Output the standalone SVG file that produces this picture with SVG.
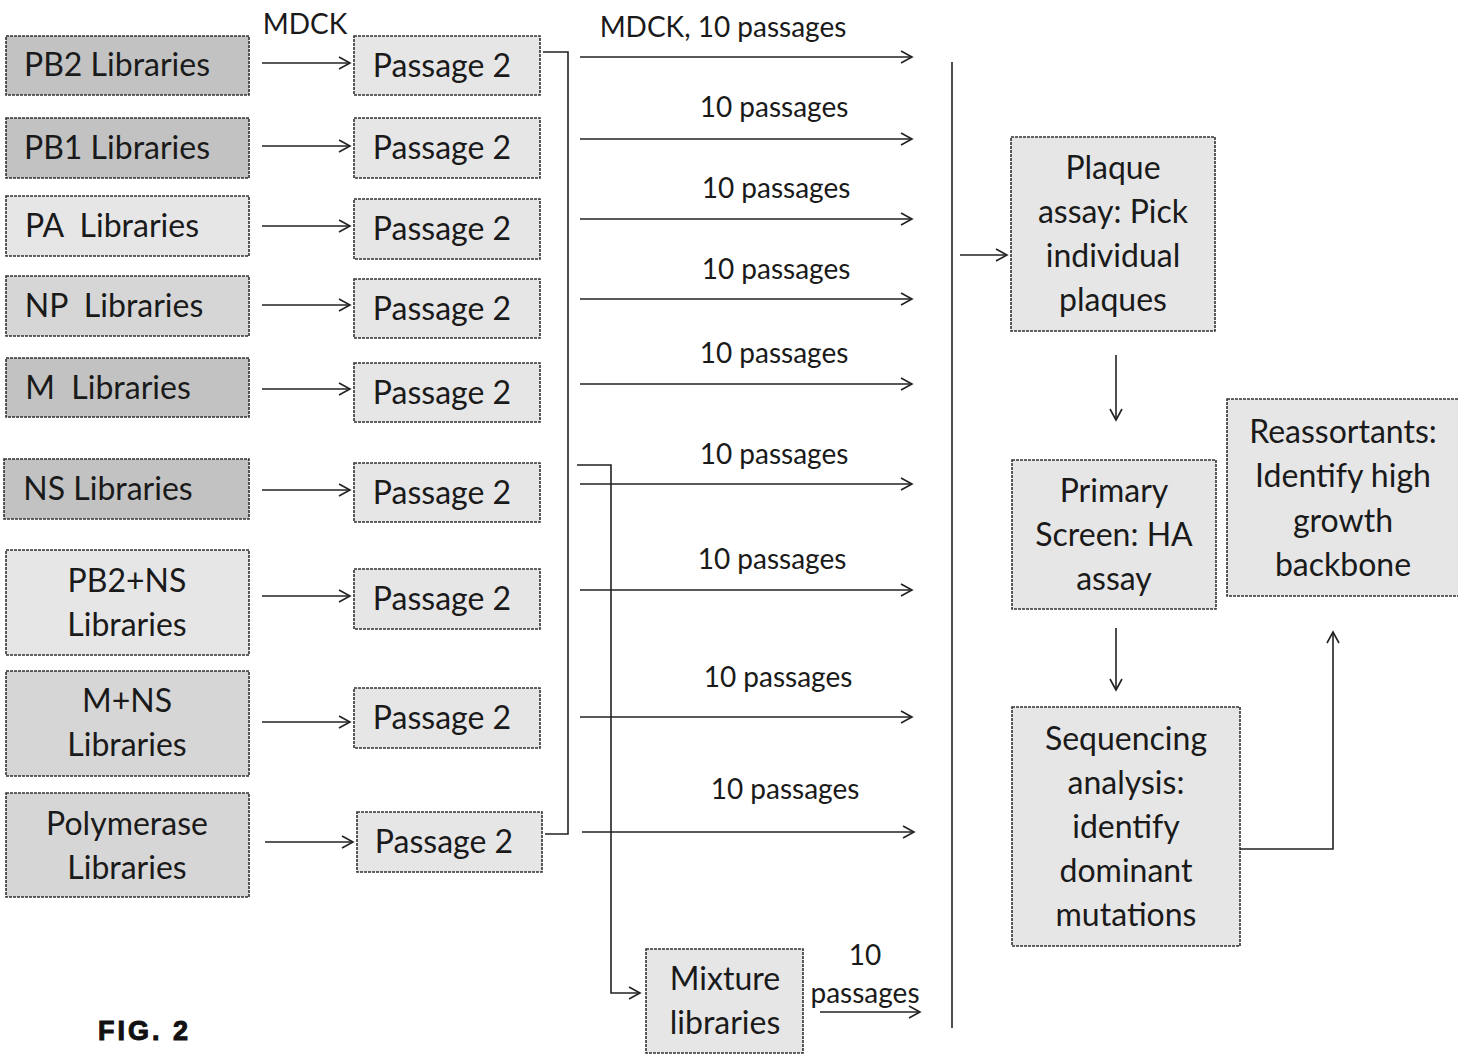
<svg xmlns="http://www.w3.org/2000/svg" width="1458" height="1057" viewBox="0 0 1458 1057">
<defs>
<marker id="ah" markerWidth="14" markerHeight="14" refX="12" refY="7" orient="auto" markerUnits="userSpaceOnUse">
<polyline points="1,1 12,7 1,13" fill="none" stroke="#222" stroke-width="1.6"/>
</marker>
<style>
.box{stroke:#333;stroke-width:1.6;stroke-dasharray:3 1}
.light{fill:#e6e6e6}
.mid{fill:#d6d6d6}
.dark{fill:#c2c2c2}
.t{font-family:Lato,"Liberation Sans",sans-serif;font-size:32px;fill:#1a1a1a;text-anchor:middle}
.lb{font-family:Lato,"Liberation Sans",sans-serif;font-size:28px;fill:#1a1a1a;text-anchor:middle}
.c{fill:none;stroke:#222;stroke-width:1.6}
.a{fill:none;stroke:#222;stroke-width:1.6;marker-end:url(#ah)}
</style>
</defs>
<rect width="1458" height="1057" fill="#fff"/>

<g id="lib-pb2"><rect class="box dark" x="6" y="36" width="243" height="59"/><text class="t" x="117" y="76">PB2 Libraries</text></g>
<g id="lib-pb1"><rect class="box dark" x="6" y="118" width="243" height="60"/><text class="t" x="117" y="159">PB1 Libraries</text></g>
<g id="lib-pa"><rect class="box light" x="6" y="196" width="243" height="60"/><text class="t" x="112" y="237" xml:space="preserve">PA  Libraries</text></g>
<g id="lib-np"><rect class="box mid" x="6" y="276" width="243" height="60"/><text class="t" x="114" y="317" xml:space="preserve">NP  Libraries</text></g>
<g id="lib-m"><rect class="box dark" x="6" y="358" width="243" height="59"/><text class="t" x="108" y="399" xml:space="preserve">M  Libraries</text></g>
<g id="lib-ns"><rect class="box dark" x="4" y="459" width="245" height="60"/><text class="t" x="108" y="500">NS Libraries</text></g>
<g id="lib-pb2ns"><rect class="box light" x="6" y="550" width="243" height="105"/><text class="t" x="127" y="592">PB2+NS</text><text class="t" x="127" y="636">Libraries</text></g>
<g id="lib-mns"><rect class="box mid" x="6" y="671" width="243" height="105"/><text class="t" x="127" y="712">M+NS</text><text class="t" x="127" y="756">Libraries</text></g>
<g id="lib-poly"><rect class="box mid" x="6" y="793" width="243" height="104"/><text class="t" x="127" y="835">Polymerase</text><text class="t" x="127" y="879">Libraries</text></g>

<g id="p1"><rect class="box light" x="354" y="36" width="186" height="59"/><text class="t" x="442" y="77">Passage 2</text></g>
<g id="p2"><rect class="box light" x="354" y="118" width="186" height="60"/><text class="t" x="442" y="159">Passage 2</text></g>
<g id="p3"><rect class="box light" x="354" y="199" width="186" height="60"/><text class="t" x="442" y="240">Passage 2</text></g>
<g id="p4"><rect class="box light" x="354" y="279" width="186" height="59"/><text class="t" x="442" y="320">Passage 2</text></g>
<g id="p5"><rect class="box light" x="354" y="363" width="186" height="59"/><text class="t" x="442" y="404">Passage 2</text></g>
<g id="p6"><rect class="box light" x="354" y="463" width="186" height="59"/><text class="t" x="442" y="504">Passage 2</text></g>
<g id="p7"><rect class="box light" x="354" y="569" width="186" height="60"/><text class="t" x="442" y="610">Passage 2</text></g>
<g id="p8"><rect class="box light" x="354" y="688" width="186" height="60"/><text class="t" x="442" y="729">Passage 2</text></g>
<g id="p9"><rect class="box light" x="357" y="812" width="185" height="60"/><text class="t" x="444" y="853">Passage 2</text></g>

<g id="mixture"><rect class="box light" x="646" y="949" width="157" height="104"/><text class="t" x="725" y="990">Mixture</text><text class="t" x="725" y="1034">libraries</text></g>

<g id="plaque"><rect class="box light" x="1011" y="137" width="204" height="194"/><text class="t" x="1113" y="179">Plaque</text><text class="t" x="1113" y="223">assay: Pick</text><text class="t" x="1113" y="267">individual</text><text class="t" x="1113" y="311">plaques</text></g>
<g id="primary"><rect class="box light" x="1012" y="460" width="204" height="149"/><text class="t" x="1114" y="502">Primary</text><text class="t" x="1114" y="546">Screen: HA</text><text class="t" x="1114" y="590">assay</text></g>
<g id="sequencing"><rect class="box light" x="1012" y="707" width="228" height="239"/><text class="t" x="1126" y="750">Sequencing</text><text class="t" x="1126" y="794">analysis:</text><text class="t" x="1126" y="838">identify</text><text class="t" x="1126" y="882">dominant</text><text class="t" x="1126" y="926">mutations</text></g>
<g id="reassortants"><rect class="box light" x="1227" y="399" width="234" height="197"/><text class="t" x="1343" y="443">Reassortants:</text><text class="t" x="1343" y="487">Identify high</text><text class="t" x="1343" y="532">growth</text><text class="t" x="1343" y="576">backbone</text></g>

<g id="labels">
<text class="lb" x="305" y="34">MDCK</text>
<text class="lb" x="723" y="37">MDCK, 10 passages</text>
<text class="lb" x="774" y="117">10 passages</text>
<text class="lb" x="776" y="198">10 passages</text>
<text class="lb" x="776" y="279">10 passages</text>
<text class="lb" x="774" y="363">10 passages</text>
<text class="lb" x="774" y="464">10 passages</text>
<text class="lb" x="772" y="569">10 passages</text>
<text class="lb" x="778" y="687">10 passages</text>
<text class="lb" x="785" y="799">10 passages</text>
<text class="lb" x="865" y="965">10</text>
<text class="lb" x="865" y="1003">passages</text>
<text x="98" y="1040" style="font-family:'Liberation Sans',Arial,sans-serif;font-weight:bold;font-size:27px;letter-spacing:3px;stroke:#111;stroke-width:1;fill:#111">FIG. 2</text>
</g>

<g id="connectors">
<line class="a" x1="262" y1="63" x2="350" y2="63"/>
<line class="a" x1="262" y1="146" x2="350" y2="146"/>
<line class="a" x1="262" y1="226" x2="350" y2="226"/>
<line class="a" x1="262" y1="305" x2="350" y2="305"/>
<line class="a" x1="262" y1="389" x2="350" y2="389"/>
<line class="a" x1="262" y1="490" x2="350" y2="490"/>
<line class="a" x1="262" y1="596" x2="350" y2="596"/>
<line class="a" x1="262" y1="722" x2="350" y2="722"/>
<line class="a" x1="265" y1="842" x2="353" y2="842"/>
<polyline class="c" points="543,52 568,52 568,834 545,834"/>
<line class="a" x1="580" y1="57" x2="912" y2="57"/>
<line class="a" x1="580" y1="139" x2="912" y2="139"/>
<line class="a" x1="580" y1="219" x2="912" y2="219"/>
<line class="a" x1="580" y1="299" x2="912" y2="299"/>
<line class="a" x1="580" y1="384" x2="912" y2="384"/>
<line class="a" x1="580" y1="484" x2="912" y2="484"/>
<line class="a" x1="580" y1="590" x2="912" y2="590"/>
<line class="a" x1="580" y1="717" x2="912" y2="717"/>
<line class="a" x1="582" y1="832" x2="914" y2="832"/>
<polyline class="a" points="577,465 611,465 611,993 640,993"/>
<line class="a" x1="820" y1="1012" x2="920" y2="1012"/>
<line class="c" x1="952" y1="62" x2="952" y2="1028"/>
<line class="a" x1="960" y1="255" x2="1007" y2="255"/>
<line class="a" x1="1116" y1="355" x2="1116" y2="420"/>
<line class="a" x1="1116" y1="628" x2="1116" y2="690"/>
<polyline class="a" points="1240,849 1333,849 1333,632"/>
</g>
</svg>
